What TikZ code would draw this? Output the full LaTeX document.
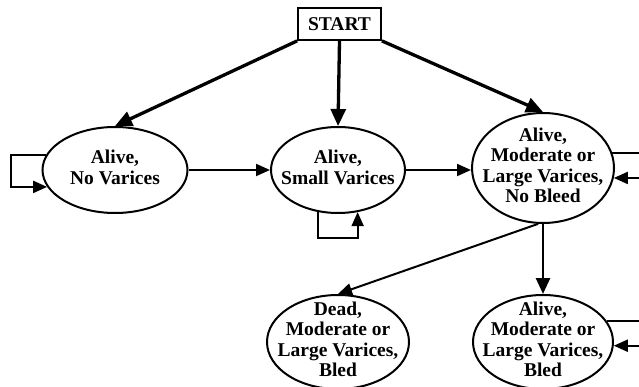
\documentclass[tikz,border=0pt]{standalone}
\usepackage{fontspec}
\setmainfont{Liberation Serif}
\usetikzlibrary{arrows.meta,shapes.geometric}
\newcommand\ztxt[1]{\raisebox{-0.25em}[0pt][0pt]{\makebox[0pt]{\begin{tabular}{@{}c@{}}#1\end{tabular}}}}
\begin{document}
\begin{tikzpicture}[x=1pt,y=1pt,
  every node/.style={font=\fontsize{19.5}{20.5}\selectfont\bfseries},
  st/.style={ellipse, draw, line width=2pt, inner sep=0pt},
  startbox/.style={draw, line width=1.8pt, minimum width=83pt, minimum height=32pt, inner sep=0pt},
  thickarrow/.style={line width=3.3pt, -{Triangle[length=17pt,width=15pt]}},
  midarrow/.style={line width=2.6pt, -{Triangle[length=16pt,width=14pt]}},
  thinarrow/.style={line width=2pt, -{Triangle[length=14pt,width=12pt]}}]
\clip (0,0) rectangle (639,-387);
\node[startbox] (S) at (339.5,-24) {START};
\node[st, minimum width=145pt, minimum height=86pt] (E1) at (115,-170) {\ztxt{Alive,\\No Varices}};
\node[st, minimum width=134pt, minimum height=86pt] (E2) at (338,-170) {\ztxt{Alive,\\Small Varices}};
\node[st, minimum width=142pt, minimum height=110pt] (E3) at (543,-168) {\ztxt{Alive,\\Moderate or\\Large Varices,\\No Bleed}};
\node[st, minimum width=142pt, minimum height=94pt] (E4) at (338,-342) {\ztxt{Dead,\\Moderate or\\Large Varices,\\Bled}};
\node[st, minimum width=140pt, minimum height=94pt] (E5) at (543,-342) {\ztxt{Alive,\\Moderate or\\Large Varices,\\Bled}};
% start arrows
\draw[thickarrow] (S.south west) -- (E1.north);
\draw[thickarrow] (S.south) -- (E2.north);
\draw[thickarrow] (S.south east) -- (E3.north);
% horizontal transitions
\draw[thinarrow] (E1.east) -- (E2.west);
\draw[thinarrow] (E2.east) -- (E2.east -| E3.west);
% downward transitions
\draw[midarrow] (E3.south) -- (E5.north);
\draw[thinarrow] (E3.265) -- (E4.north);
% self loops
\draw[thinarrow] (E1.168) -- ++(-35,0) |- (E1.194);
\draw[thinarrow] (E2.245) -- ++(0,-26) -| (E2.295);
\draw[thinarrow] (E3.12) -- ++(40,0) |- (E3.352);
\draw[thinarrow] (E5.18) -- ++(40,0) |- (E5.357);
\end{tikzpicture}
\end{document}
